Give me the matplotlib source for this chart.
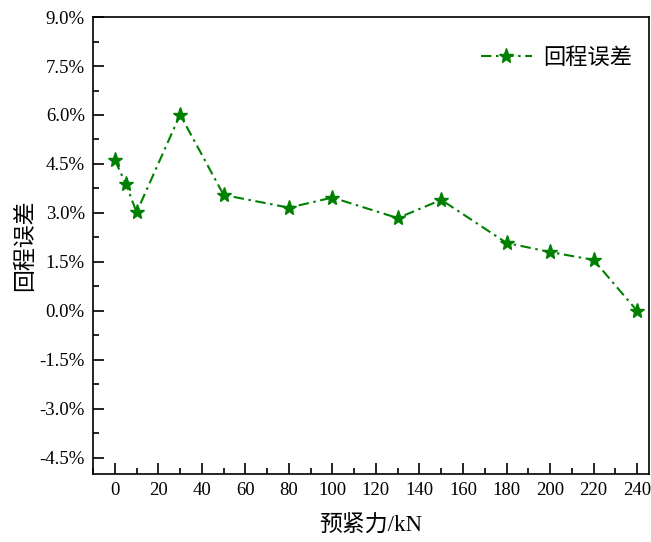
import numpy as np
import matplotlib.pyplot as plt
from matplotlib.ticker import MultipleLocator, PercentFormatter

plt.rcParams['font.family'] = ['Liberation Serif', 'Noto Sans CJK SC']
plt.rcParams['axes.unicode_minus'] = False

# 预紧力 (kN) 与 回程误差 (%)
force = [0, 5, 10, 30, 50, 80, 100, 130, 150, 180, 200, 220, 240]
err = [4.62, 3.89, 3.02, 6.01, 3.55, 3.16, 3.47, 2.84, 3.40, 2.08, 1.80, 1.56, 0.0]

fig = plt.figure(figsize=(6.51, 5.42), dpi=100)
ax = fig.add_axes([0.143, 0.1255, 0.854, 0.843])

ax.plot(force, err, color='#008000', linestyle=(0, (5, 2.2, 1.2, 2.2)),
        linewidth=1.5, marker='*', markersize=11, label='回程误差', zorder=3)

ax.set_xlim(-10, 245.5)
ax.set_ylim(-5.0, 9.0)
ax.xaxis.set_major_locator(MultipleLocator(20))
ax.xaxis.set_minor_locator(MultipleLocator(10))
ax.yaxis.set_major_locator(MultipleLocator(1.5))
ax.yaxis.set_minor_locator(MultipleLocator(0.75))
ax.yaxis.set_major_formatter(PercentFormatter(decimals=1))

ax.tick_params(which='both', direction='in', top=False, right=False,
               labelsize=13.5, width=1.2)
ax.tick_params(which='major', length=8, pad=6)
ax.tick_params(which='minor', length=4)
for s in ax.spines.values():
    s.set_linewidth(1.2)

ax.set_xlabel('预紧力/kN', fontsize=16.5, labelpad=11)
ax.set_ylabel('回程误差', fontsize=16.5, labelpad=2)

ax.legend(loc='upper right', frameon=False, fontsize=16, handlelength=2.3,
          handletextpad=0.5, bbox_to_anchor=(1.005, 0.975))

fig.savefig('out.png', dpi=100)
